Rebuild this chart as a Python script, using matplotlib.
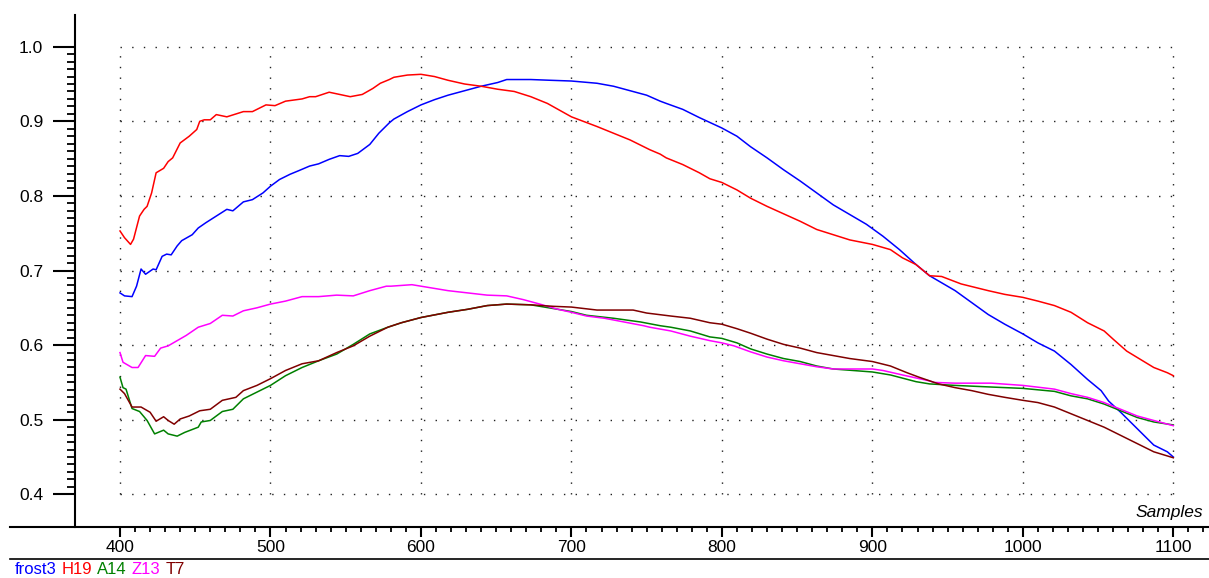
import matplotlib
matplotlib.use("Agg")
import matplotlib.pyplot as plt
from matplotlib.lines import Line2D
from matplotlib.text import Annotation
from matplotlib.ticker import FixedLocator, FixedFormatter

plt.rcParams['font.family'] = ['Liberation Sans', 'DejaVu Sans']

# ---------------- data ----------------
frost3_x = [400, 403, 408, 411, 414, 417, 422, 424, 428, 431, 434, 438, 441, 448, 452, 457, 464, 471, 475, 482,
            488, 495, 500, 506, 513, 519, 526, 532, 539, 546, 552, 558, 566, 572, 579, 582, 591, 600, 609, 618,
            629, 640, 651, 657, 673, 686, 700, 717, 728, 739, 750, 759, 763, 774, 785, 800, 810, 819, 830, 841,
            852, 863, 874, 885, 896, 907, 918, 929, 938, 955, 966, 977, 988, 1000, 1010, 1021, 1032, 1043, 1052, 1057,
            1065, 1076, 1087, 1096, 1100]
frost3_y = [0.670, 0.666, 0.665, 0.679, 0.702, 0.695, 0.702, 0.701, 0.719, 0.722, 0.721, 0.733, 0.740, 0.748, 0.757, 0.764, 0.773, 0.782, 0.780, 0.792,
            0.795, 0.804, 0.813, 0.822, 0.829, 0.834, 0.840, 0.843, 0.849, 0.854, 0.853, 0.857, 0.869, 0.884, 0.898, 0.903, 0.913, 0.922, 0.929, 0.935,
            0.941, 0.947, 0.952, 0.956, 0.956, 0.955, 0.954, 0.951, 0.947, 0.941, 0.935, 0.927, 0.924, 0.916, 0.905, 0.891, 0.880, 0.866, 0.851, 0.835,
            0.820, 0.804, 0.788, 0.775, 0.762, 0.746, 0.728, 0.708, 0.693, 0.673, 0.657, 0.641, 0.628, 0.615, 0.603, 0.592, 0.574, 0.554, 0.539, 0.525,
            0.510, 0.488, 0.466, 0.457, 0.450]

h19_x = [400, 403, 407, 409, 413, 416, 418, 421, 424, 429, 432, 435, 440, 446, 451, 453, 456, 460, 464, 471,
         482, 488, 497, 503, 510, 521, 526, 530, 539, 546, 553, 561, 568, 573, 579, 582, 591, 600, 609, 618,
         629, 640, 651, 662, 673, 684, 700, 717, 728, 739, 752, 759, 763, 774, 785, 792, 800, 810, 819, 830,
         841, 852, 863, 874, 885, 900, 912, 920, 929, 938, 946, 959, 977, 988, 1000, 1010, 1021, 1032, 1043, 1054,
         1060, 1069, 1078, 1087, 1096, 1100]
h19_y = [0.753, 0.744, 0.735, 0.742, 0.773, 0.782, 0.786, 0.804, 0.831, 0.837, 0.846, 0.851, 0.871, 0.880, 0.889, 0.900, 0.902, 0.902, 0.909, 0.906,
         0.913, 0.913, 0.922, 0.921, 0.927, 0.930, 0.933, 0.933, 0.939, 0.936, 0.933, 0.936, 0.944, 0.951, 0.956, 0.959, 0.962, 0.963, 0.960, 0.955,
         0.950, 0.947, 0.943, 0.940, 0.933, 0.924, 0.906, 0.893, 0.884, 0.875, 0.862, 0.856, 0.851, 0.842, 0.831, 0.823, 0.818, 0.808, 0.797, 0.786,
         0.776, 0.766, 0.755, 0.748, 0.741, 0.735, 0.728, 0.717, 0.708, 0.693, 0.692, 0.682, 0.673, 0.668, 0.664, 0.659, 0.653, 0.644, 0.630, 0.619,
         0.608, 0.592, 0.581, 0.570, 0.563, 0.559]

a14_x = [400, 402, 404, 408, 413, 418, 423, 429, 432, 438, 443, 452, 454, 460, 468, 475, 482, 491, 500, 510,
         521, 532, 544, 555, 566, 578, 587, 600, 618, 631, 644, 657, 673, 688, 700, 710, 728, 746, 759, 766,
         779, 792, 800, 810, 819, 830, 841, 852, 863, 874, 900, 912, 929, 938, 955, 977, 1000, 1021, 1032, 1043,
         1054, 1065, 1076, 1087, 1100]
a14_y = [0.557, 0.543, 0.541, 0.515, 0.511, 0.499, 0.481, 0.486, 0.481, 0.478, 0.483, 0.490, 0.497, 0.499, 0.511, 0.514, 0.528, 0.537, 0.546, 0.559,
         0.570, 0.579, 0.588, 0.601, 0.615, 0.624, 0.630, 0.637, 0.644, 0.648, 0.653, 0.655, 0.654, 0.649, 0.645, 0.640, 0.636, 0.631, 0.626, 0.624,
         0.619, 0.611, 0.609, 0.603, 0.595, 0.588, 0.582, 0.578, 0.572, 0.568, 0.564, 0.560, 0.551, 0.548, 0.546, 0.544, 0.542, 0.538, 0.532, 0.528,
         0.521, 0.512, 0.503, 0.497, 0.493]

z13_x = [400, 402, 408, 412, 417, 423, 427, 432, 438, 444, 452, 460, 468, 475, 482, 491, 500, 510, 521, 532,
         544, 555, 566, 577, 580, 594, 600, 618, 631, 644, 657, 668, 679, 691, 700, 710, 722, 735, 748, 752,
         766, 779, 792, 800, 808, 819, 830, 841, 852, 863, 874, 900, 907, 920, 938, 941, 955, 979, 1000, 1021,
         1032, 1043, 1054, 1065, 1076, 1087, 1100]
z13_y = [0.590, 0.577, 0.570, 0.570, 0.586, 0.585, 0.596, 0.599, 0.606, 0.613, 0.624, 0.629, 0.640, 0.639, 0.646, 0.650, 0.655, 0.659, 0.665, 0.665,
         0.667, 0.666, 0.673, 0.679, 0.679, 0.681, 0.679, 0.673, 0.670, 0.667, 0.666, 0.661, 0.655, 0.648, 0.644, 0.639, 0.636, 0.631, 0.626, 0.624,
         0.619, 0.612, 0.606, 0.603, 0.599, 0.591, 0.584, 0.579, 0.575, 0.571, 0.568, 0.568, 0.566, 0.560, 0.552, 0.550, 0.549, 0.549, 0.546, 0.541,
         0.535, 0.530, 0.523, 0.514, 0.505, 0.499, 0.492]

t7_x = [400, 403, 408, 414, 420, 424, 429, 432, 436, 440, 446, 453, 460, 468, 477, 482, 491, 500, 510, 521,
        532, 544, 555, 566, 578, 587, 600, 618, 631, 644, 657, 673, 688, 700, 717, 741, 750, 766, 779, 792,
        800, 810, 819, 830, 841, 852, 863, 874, 885, 900, 912, 923, 931, 944, 955, 966, 977, 988, 1000, 1010,
        1021, 1032, 1043, 1054, 1065, 1076, 1087, 1100]
t7_y = [0.541, 0.535, 0.517, 0.517, 0.510, 0.498, 0.504, 0.499, 0.494, 0.501, 0.505, 0.512, 0.514, 0.526, 0.530, 0.539, 0.546, 0.555, 0.566, 0.575,
        0.579, 0.590, 0.599, 0.612, 0.624, 0.630, 0.637, 0.644, 0.648, 0.653, 0.655, 0.654, 0.652, 0.651, 0.647, 0.647, 0.643, 0.639, 0.636, 0.630,
        0.628, 0.622, 0.616, 0.608, 0.601, 0.596, 0.590, 0.586, 0.582, 0.578, 0.572, 0.563, 0.557, 0.548, 0.543, 0.539, 0.534, 0.530, 0.526, 0.523,
        0.517, 0.508, 0.499, 0.490, 0.479, 0.468, 0.457, 0.449]

series_names = ["frost3", "H19", "A14", "Z13", "T7"]
series_colors = ["#0000FF", "#FF0000", "#008000", "#FF00FF", "#800000"]

x_major = [400, 500, 600, 700, 800, 900, 1000, 1100]
x_labels = ["400", "500", "600", "700", "800", "900", "1000", "1100"]
y_major = [0.4, 0.5, 0.6, 0.7, 0.8, 0.9, 1.0]
y_labels = ["0.4", "0.5", "0.6", "0.7", "0.8", "0.9", "1.0"]
x_minor = list(range(400, 1121, 10))
y_minor = [round(0.4 + 0.01 * i, 2) for i in range(61)]

# ---------------- figure ----------------
W, H = 1209, 578
fig = plt.figure(figsize=(W / 100, H / 100), dpi=100)
ax = fig.add_axes([10 / W, 51 / H, 1199 / W, 512 / H])
ax.set_xlim(326.9, 1123.7)
ax.set_ylim(0.3562, 1.0425)

for sp in ("top", "right"):
    ax.spines[sp].set_visible(False)
ax.spines["left"].set_position(("data", 370))
ax.spines["left"].set_linewidth(1.5)
ax.spines["bottom"].set_linewidth(1.5)

# dotted grid box (400-1100, 0.4-1.0)
hper = 151.7 / 13  # px between dots along horizontal lines
vper = 74.6 / 7
lw = 1.0
u = lw * 100 / 72
ax.hlines(y_major, x_major[0], x_major[-1], colors="#202020", linewidth=lw,
          linestyles=[(0, (1.0, hper / u - 1.0))], zorder=1)
ax.vlines(x_major, y_major[0], y_major[-1], colors="#202020", linewidth=lw,
          linestyles=[(0, (1.0, vper / u - 1.0))], zorder=1)

xs = [frost3_x, h19_x, a14_x, z13_x, t7_x]
ys = [frost3_y, h19_y, a14_y, z13_y, t7_y]
for x, y, c, n in zip(xs, ys, series_colors, series_names):
    ax.plot(x, y, color=c, linewidth=1.1, label=n, zorder=3)

ax.xaxis.set_major_locator(FixedLocator(x_major))
ax.xaxis.set_major_formatter(FixedFormatter(x_labels))
ax.xaxis.set_minor_locator(FixedLocator(x_minor))
ax.yaxis.set_major_locator(FixedLocator(y_major))
ax.yaxis.set_major_formatter(FixedFormatter(y_labels))
ax.yaxis.set_minor_locator(FixedLocator(y_minor))

ax.tick_params(axis="y", which="major", direction="out", length=15.8, width=1.5, pad=7,
               labelsize=12.5, colors="black")
ax.tick_params(axis="y", which="minor", direction="out", length=5.8, width=1.3)
ax.tick_params(axis="x", which="major", direction="out", length=7.2, width=1.5, pad=2.5,
               labelsize=12.5, colors="black")
ax.tick_params(axis="x", which="minor", direction="out", length=3.6, width=1.3)

ax.text(0.995, 0.029, "Samples", transform=ax.transAxes, ha="right", va="center",
        fontsize=12.5, style="italic", color="black")

# bottom separator line
fig.add_artist(Line2D([10 / W, 1.0], [1 - 559 / H, 1 - 559 / H], transform=fig.transFigure,
                      color="black", linewidth=1.2))

# coloured legend text, chained left to right (figure-level artists)
last = fig.text(15 / W, 1 - 570 / H, series_names[0], color=series_colors[0],
                fontsize=12, va="center", ha="left")
for n, c in zip(series_names[1:], series_colors[1:]):
    ann = Annotation(n, xy=(1, 0.5), xycoords=last, xytext=(3.6, 0), textcoords="offset points",
                     color=c, fontsize=12, va="center", ha="left", annotation_clip=False)
    fig.add_artist(ann)
    last = ann

fig.savefig("out.png", dpi=100)
